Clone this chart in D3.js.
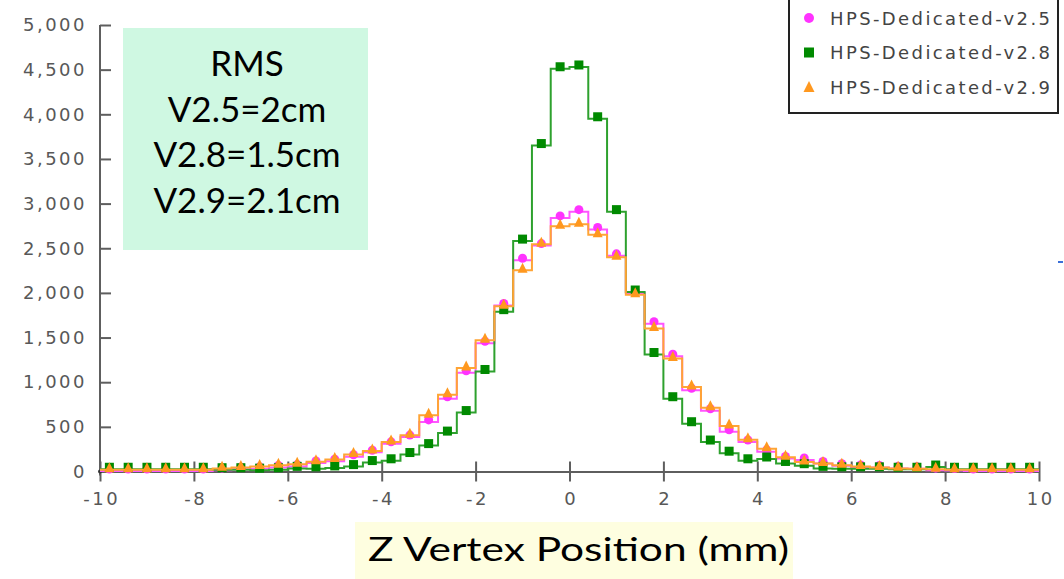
<!DOCTYPE html>
<html>
<head>
<meta charset="utf-8">
<script src="https://cdn.jsdelivr.net/npm/d3@7"></script>
<style>
  html, body { margin: 0; padding: 0; background: #fff; }
  svg { display: block; }
</style>
</head>
<body>
<svg id="chart" width="1064" height="579"></svg>
<script>
// Z vertex distributions, 0.4 mm bins from -10 to 10 mm (bin centres)
const binCenters = [
  -9.8, -9.4, -9.0, -8.6, -8.2, -7.8, -7.4, -7.0, -6.6, -6.2,
  -5.8, -5.4, -5.0, -4.6, -4.2, -3.8, -3.4, -3.0, -2.6, -2.2,
  -1.8, -1.4, -1.0, -0.6, -0.2, 0.2, 0.6, 1.0, 1.4, 1.8,
  2.2, 2.6, 3.0, 3.4, 3.8, 4.2, 4.6, 5.0, 5.4, 5.8,
  6.2, 6.6, 7.0, 7.4, 7.8, 8.2, 8.6, 9.0, 9.4, 9.8
];
const binWidth = 0.4;

const countsV25 = [
  5, 5, 5, 5, 5, 5, 15, 25, 30, 45,
  55, 95, 115, 165, 215, 310, 385, 555, 815, 1105,
  1435, 1860, 2365, 2530, 2840, 2910, 2710, 2415, 2000, 1655,
  1290, 910, 680, 445, 330, 220, 145, 130, 90, 65,
  50, 45, 35, 30, 15, 10, 5, 5, 5, 5
];
const countsV28 = [
  25, 25, 25, 25, 25, 25, 20, 20, 15, 20,
  35, 30, 40, 55, 100, 120, 190, 290, 430, 660,
  1120, 1790, 2580, 3650, 4510, 4530, 3950, 2910, 2010, 1310,
  815, 535, 330, 205, 120, 140, 90, 65, 35, 30,
  30, 30, 25, 25, 50, 25, 25, 25, 25, 25
];
const countsV29 = [
  20, 20, 20, 20, 20, 20, 35, 45, 55, 70,
  80, 110, 135, 190, 230, 330, 405, 630, 860, 1160,
  1470, 1850, 2255, 2545, 2745, 2770, 2650, 2400, 1980, 1600,
  1265, 945, 715, 510, 355, 255, 160, 105, 90, 70,
  55, 45, 35, 30, 25, 20, 20, 20, 20, 20
];

const seriesNames = ["HPS-Dedicated-v2.5", "HPS-Dedicated-v2.8", "HPS-Dedicated-v2.9"];
const xTicks = [-10, -8, -6, -4, -2, 0, 2, 4, 6, 8, 10];
const xTickLabels = ["-10", "-8", "-6", "-4", "-2", "0", "2", "4", "6", "8", "10"];
const yTicks = [0, 500, 1000, 1500, 2000, 2500, 3000, 3500, 4000, 4500, 5000];
const yTickLabels = ["0", "500", "1,000", "1,500", "2,000", "2,500", "3,000", "3,500", "4,000", "4,500", "5,000"];
const rmsLines = ["RMS", "V2.5=2cm", "V2.8=1.5cm", "V2.9=2.1cm"];
const xTitle = "Z Vertex Position (mm)";

const series = [
  { name: seriesNames[0], counts: countsV25, line: "#ff55ff", mark: "#ff33ff", shape: "circle" },
  { name: seriesNames[1], counts: countsV28, line: "#2ea12e", mark: "#008a00", shape: "square" },
  { name: seriesNames[2], counts: countsV29, line: "#ffa435", mark: "#ff981f", shape: "triangle" }
];

const svg = d3.select("#chart");
const x = d3.scaleLinear().domain([-10, 10]).range([100, 1039]);
const y = d3.scaleLinear().domain([0, 5000]).range([471.5, 25]);
const axisColor = "#5e5e5e";
const tickFont = "'DejaVu Sans', sans-serif";

// RMS annotation panel
svg.append("rect")
  .attr("x", 123).attr("y", 28).attr("width", 245).attr("height", 222)
  .attr("fill", "#cff8e2");
svg.append("g").selectAll("text").data(rmsLines).join("text")
  .attr("x", 247).attr("y", (d, i) => 76 + i * 45.5)
  .attr("text-anchor", "middle")
  .attr("font-family", "Lato, 'Open Sans', sans-serif")
  .attr("font-size", 35)
  .attr("fill", "#000")
  .text(d => d);

// x axis title panel
svg.append("rect")
  .attr("x", 355).attr("y", 522).attr("width", 438).attr("height", 57)
  .attr("fill", "#fefee0");
svg.append("text")
  .attr("x", 368).attr("y", 561)
  .attr("font-family", "Lato, 'Open Sans', sans-serif")
  .attr("font-size", 33)
  .attr("fill", "#000")
  .attr("textLength", 421).attr("lengthAdjust", "spacingAndGlyphs")
  .text(xTitle);

// axes
const xAxis = d3.axisBottom(x)
  .tickValues(xTicks)
  .tickFormat((d, i) => xTickLabels[i])
  .tickSizeInner(10).tickSizeOuter(0).tickPadding(11);
const gx = svg.append("g").attr("transform", `translate(0,${y(0)})`).call(xAxis);
gx.select(".domain").attr("stroke", axisColor).attr("stroke-width", 2);
gx.selectAll(".tick line").attr("stroke", axisColor).attr("stroke-width", 2).attr("y1", -10);
gx.selectAll(".tick text")
  .attr("font-family", tickFont).attr("font-size", 18).attr("fill", "#585858")
  .attr("letter-spacing", 2.5).attr("dx", 1.25);

const yAxis = d3.axisLeft(y)
  .tickValues(yTicks)
  .tickFormat((d, i) => yTickLabels[i])
  .tickSizeInner(4).tickSizeOuter(0).tickPadding(9);
const gy = svg.append("g").attr("transform", `translate(${x(-10)},0)`).call(yAxis);
gy.select(".domain").attr("stroke", axisColor).attr("stroke-width", 2)
  .attr("d", `M0,${y(5000)}V${y(0) + 4}`);
gy.selectAll(".tick line").attr("stroke", axisColor).attr("stroke-width", 2).attr("x2", 11);
gy.selectAll(".tick text")
  .attr("font-family", tickFont).attr("font-size", 18).attr("fill", "#585858")
  .attr("letter-spacing", 2.5);

svg.append("circle").attr("cx", x(-10)).attr("cy", y(0)).attr("r", 2).attr("fill", "#333");

// histogram step lines with markers at bin centres
const stepLine = d3.line().x(d => x(d[0])).y(d => y(d[1])).curve(d3.curveStepAfter);
const markSize = 9;

function drawMarker(g, shape, cx, cy, size, color) {
  if (shape === "circle") {
    g.append("circle").attr("cx", cx).attr("cy", cy).attr("r", size / 2).attr("fill", color);
  } else if (shape === "square") {
    g.append("rect").attr("x", cx - size / 2).attr("y", cy - size / 2)
      .attr("width", size).attr("height", size).attr("fill", color);
  } else {
    const h = size;
    g.append("path")
      .attr("d", `M${cx},${cy - h / 2 - 1}L${cx + size / 2 + 0.5},${cy + h / 2}L${cx - size / 2 - 0.5},${cy + h / 2}Z`)
      .attr("fill", color);
  }
}

series.forEach(s => {
  const pts = binCenters.map((c, i) => [c - binWidth / 2, s.counts[i]]);
  pts.push([binCenters[binCenters.length - 1] + binWidth / 2, s.counts[s.counts.length - 1]]);
  const g = svg.append("g");
  g.append("path").attr("d", stepLine(pts))
    .attr("fill", "none").attr("stroke", s.line).attr("stroke-width", 2);
  binCenters.forEach((c, i) => {
    drawMarker(g, s.shape, x(c), y(s.counts[i]) - 2, markSize, s.mark);
  });
});

// legend
const lg = svg.append("g");
lg.append("rect").attr("x", 789).attr("y", -10).attr("width", 269).attr("height", 123)
  .attr("fill", "#fff").attr("stroke", "#222").attr("stroke-width", 2);
series.forEach((s, i) => {
  const cy = 18 + i * 34.5;
  drawMarker(lg, s.shape, 809, cy, 10, s.mark);
  lg.append("text").attr("x", 830).attr("y", cy + 6.5)
    .attr("font-family", tickFont).attr("font-size", 18).attr("fill", "#444")
    .attr("textLength", 220).attr("lengthAdjust", "spacing")
    .text(s.name);
});

// short blue mark at right edge
svg.append("line").attr("x1", 1058).attr("x2", 1063).attr("y1", 262).attr("y2", 262)
  .attr("stroke", "#3a6fd8").attr("stroke-width", 2);
</script>
</body>
</html>
